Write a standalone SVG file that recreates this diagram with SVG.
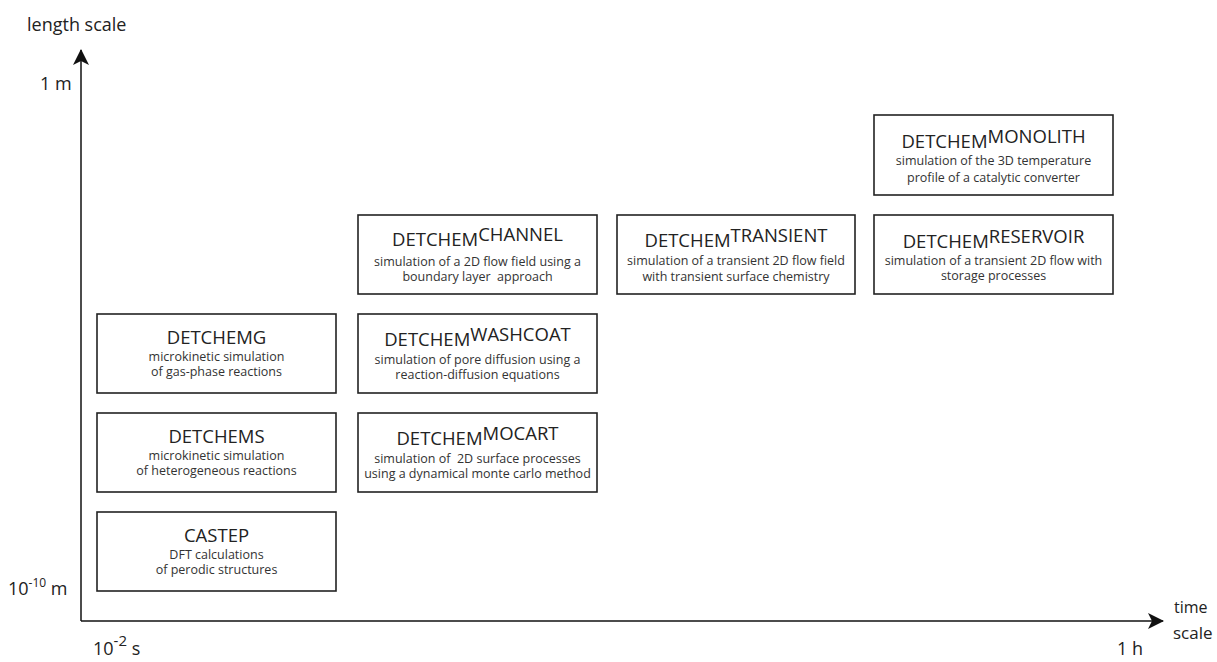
<svg xmlns="http://www.w3.org/2000/svg" width="1217" height="662" viewBox="0 0 1217 662">
<defs>
<style>
text{font-family:"Open Sans","Liberation Sans",sans-serif;fill:#222}
.box{fill:#fff;stroke:#222;stroke-width:1.6}
.t{font-size:18.5px;text-anchor:middle}
.s{font-size:12.5px;text-anchor:middle;fill:#333}
.pre{white-space:pre}
.ax{font-size:18px}
.axis{stroke:#111;stroke-width:1.5;fill:none}
</style>
<marker id="ah" viewBox="0 0 16 16" refX="15" refY="8" markerWidth="16" markerHeight="16" markerUnits="userSpaceOnUse" orient="auto">
<path d="M0,0 L16,8 L0,16 L4,8 Z" fill="#111"/>
</marker>
</defs>
<rect width="1217" height="662" fill="#fff"/>
<g id="connectors">
<path class="axis" d="M81,621 L81,50" marker-end="url(#ah)"/>
<path class="axis" d="M81,621 L1163,621" marker-end="url(#ah)"/>
</g>
<g id="axis-labels">
<text class="ax" x="27" y="31" font-size="18.8">length scale</text>
<text class="ax" x="40" y="90">1 m</text>
<text class="ax" x="8" y="595">10<tspan dy="-8" font-size="12">-10</tspan><tspan dy="8"> m</tspan></text>
<text class="ax" x="93" y="655">10<tspan dy="-9" font-size="15">-2</tspan><tspan dy="9"> s</tspan></text>
<text class="ax" x="1117" y="655">1 h</text>
<text class="ax" x="1174" y="613" style="font-size:16px">time</text>
<text class="ax" x="1173" y="639" style="font-size:17px">scale</text>
</g>
<g id="castep">
<rect class="box" x="97" y="512" width="239" height="79"/>
<text class="t" x="216.5" y="542">CASTEP</text>
<text class="s" x="216.5" y="559">DFT calculations</text>
<text class="s" x="216.5" y="574">of perodic structures</text>
</g>
<g id="detchems">
<rect class="box" x="97" y="413" width="239" height="79"/>
<text class="t" x="216.5" y="443">DETCHEMS</text>
<text class="s" x="216.5" y="460">microkinetic simulation</text>
<text class="s" x="216.5" y="475">of heterogeneous reactions</text>
</g>
<g id="detchemg">
<rect class="box" x="97" y="314" width="239" height="79"/>
<text class="t" x="216.5" y="344">DETCHEMG</text>
<text class="s" x="216.5" y="361">microkinetic simulation</text>
<text class="s" x="216.5" y="376">of gas-phase reactions</text>
</g>
<g id="mocart">
<rect class="box" x="358" y="413" width="239" height="79"/>
<text class="t" x="477.5" y="445">DETCHEM<tspan dy="-5">MOCART</tspan></text>
<text class="s pre" x="477.5" y="463">simulation of  2D surface processes</text>
<text class="s" x="477.5" y="478">using a dynamical monte carlo method</text>
</g>
<g id="washcoat">
<rect class="box" x="358" y="314" width="239" height="79"/>
<text class="t" x="477.5" y="346">DETCHEM<tspan dy="-5">WASHCOAT</tspan></text>
<text class="s" x="477.5" y="364">simulation of pore diffusion using a</text>
<text class="s" x="477.5" y="379">reaction-diffusion equations</text>
</g>
<g id="channel">
<rect class="box" x="358" y="215" width="239" height="79"/>
<text class="t" x="477.5" y="246">DETCHEM<tspan dy="-5">CHANNEL</tspan></text>
<text class="s" x="477.5" y="266">simulation of a 2D flow field using a</text>
<text class="s pre" x="477.5" y="281">boundary layer  approach</text>
</g>
<g id="transient">
<rect class="box" x="617" y="215" width="238" height="79"/>
<text class="t" x="736" y="247">DETCHEM<tspan dy="-5">TRANSIENT</tspan></text>
<text class="s" x="736" y="265">simulation of a transient 2D flow field</text>
<text class="s" x="736" y="281">with transient surface chemistry</text>
</g>
<g id="reservoir">
<rect class="box" x="874" y="215" width="239" height="79"/>
<text class="t" x="993.5" y="248">DETCHEM<tspan dy="-5">RESERVOIR</tspan></text>
<text class="s" x="993.5" y="265">simulation of a transient 2D flow with</text>
<text class="s" x="993.5" y="280">storage processes</text>
</g>
<g id="monolith">
<rect class="box" x="874" y="115" width="239" height="80"/>
<text class="t" x="993.5" y="148">DETCHEM<tspan dy="-5">MONOLITH</tspan></text>
<text class="s" x="993.5" y="165">simulation of the 3D temperature</text>
<text class="s" x="993.5" y="182">profile of a catalytic converter</text>
</g>
</svg>
